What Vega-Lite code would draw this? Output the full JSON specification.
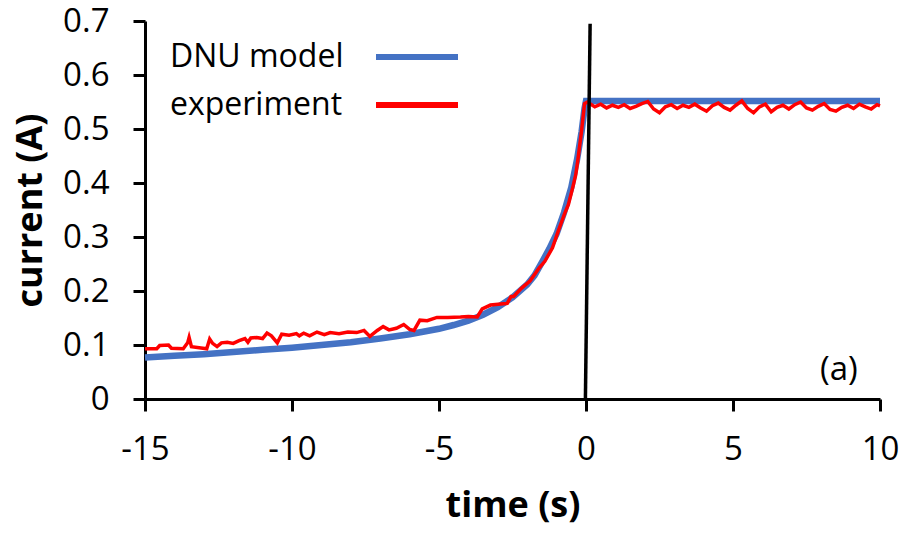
{
  "$schema": "https://vega.github.io/schema/vega-lite/v6.json",
  "width": 735,
  "height": 378,
  "autosize": {"type": "none"},
  "padding": {"left": 145, "top": 21, "right": 25, "bottom": 134},
  "background": "white",
  "datasets": {
    "model": [
      {"t": -15, "c": 0.077}, {"t": -14, "c": 0.080}, {"t": -13, "c": 0.083}, {"t": -12, "c": 0.087},
      {"t": -11, "c": 0.091}, {"t": -10, "c": 0.095}, {"t": -9, "c": 0.100}, {"t": -8, "c": 0.105},
      {"t": -7, "c": 0.112}, {"t": -6, "c": 0.120}, {"t": -5, "c": 0.130}, {"t": -4.5, "c": 0.137},
      {"t": -4, "c": 0.145}, {"t": -3.5, "c": 0.156}, {"t": -3, "c": 0.170}, {"t": -2.5, "c": 0.188},
      {"t": -2, "c": 0.212}, {"t": -1.75, "c": 0.229}, {"t": -1.5, "c": 0.253}, {"t": -1.25, "c": 0.278},
      {"t": -1, "c": 0.306}, {"t": -0.75, "c": 0.345}, {"t": -0.5, "c": 0.392}, {"t": -0.3, "c": 0.445},
      {"t": -0.15, "c": 0.495}, {"t": -0.05, "c": 0.538}, {"t": 0, "c": 0.552}, {"t": 10, "c": 0.552}
    ],
    "exp": [
      {"t": -15, "c": 0.093}, {"t": -14.6, "c": 0.093}, {"t": -14.5, "c": 0.099}, {"t": -14.2, "c": 0.100},
      {"t": -14.1, "c": 0.094}, {"t": -13.7, "c": 0.093}, {"t": -13.55, "c": 0.104}, {"t": -13.5, "c": 0.114},
      {"t": -13.42, "c": 0.097}, {"t": -12.9, "c": 0.093}, {"t": -12.8, "c": 0.111}, {"t": -12.7, "c": 0.103},
      {"t": -12.55, "c": 0.097}, {"t": -12.4, "c": 0.104}, {"t": -12.2, "c": 0.105}, {"t": -12.0, "c": 0.103},
      {"t": -11.8, "c": 0.108}, {"t": -11.6, "c": 0.112}, {"t": -11.5, "c": 0.105}, {"t": -11.4, "c": 0.113},
      {"t": -11.2, "c": 0.114}, {"t": -11.0, "c": 0.112}, {"t": -10.85, "c": 0.122}, {"t": -10.7, "c": 0.117},
      {"t": -10.5, "c": 0.104}, {"t": -10.35, "c": 0.120}, {"t": -10.1, "c": 0.118}, {"t": -9.85, "c": 0.121},
      {"t": -9.75, "c": 0.117}, {"t": -9.6, "c": 0.122}, {"t": -9.4, "c": 0.117}, {"t": -9.15, "c": 0.124},
      {"t": -8.9, "c": 0.119}, {"t": -8.7, "c": 0.123}, {"t": -8.4, "c": 0.121}, {"t": -8.1, "c": 0.124},
      {"t": -7.8, "c": 0.123}, {"t": -7.55, "c": 0.127}, {"t": -7.35, "c": 0.116}, {"t": -7.1, "c": 0.127},
      {"t": -6.9, "c": 0.134}, {"t": -6.7, "c": 0.128}, {"t": -6.45, "c": 0.131}, {"t": -6.2, "c": 0.138},
      {"t": -6.0, "c": 0.129}, {"t": -5.85, "c": 0.127}, {"t": -5.65, "c": 0.146}, {"t": -5.4, "c": 0.145},
      {"t": -5.07, "c": 0.151}, {"t": -4.7, "c": 0.151}, {"t": -4.27, "c": 0.152}, {"t": -4.0, "c": 0.153},
      {"t": -3.7, "c": 0.152}, {"t": -3.53, "c": 0.167}, {"t": -3.25, "c": 0.174}, {"t": -2.9, "c": 0.176},
      {"t": -2.68, "c": 0.177}, {"t": -2.55, "c": 0.190}, {"t": -2.46, "c": 0.190}, {"t": -2.2, "c": 0.205},
      {"t": -1.9, "c": 0.219}, {"t": -1.59, "c": 0.243}, {"t": -1.4, "c": 0.255}, {"t": -1.14, "c": 0.280},
      {"t": -0.95, "c": 0.310}, {"t": -0.73, "c": 0.343}, {"t": -0.6, "c": 0.360}, {"t": -0.45, "c": 0.392},
      {"t": -0.35, "c": 0.415}, {"t": -0.28, "c": 0.441}, {"t": -0.15, "c": 0.497}, {"t": -0.05, "c": 0.547},
      {"t": 0.05, "c": 0.550}, {"t": 0.1, "c": 0.548}, {"t": 0.3, "c": 0.541}, {"t": 0.5, "c": 0.546},
      {"t": 0.7, "c": 0.539}, {"t": 0.9, "c": 0.544}, {"t": 1.1, "c": 0.540}, {"t": 1.3, "c": 0.545},
      {"t": 1.5, "c": 0.538}, {"t": 1.7, "c": 0.542}, {"t": 1.9, "c": 0.547}, {"t": 2.1, "c": 0.551},
      {"t": 2.3, "c": 0.537}, {"t": 2.5, "c": 0.530}, {"t": 2.7, "c": 0.541}, {"t": 2.9, "c": 0.545},
      {"t": 3.1, "c": 0.538}, {"t": 3.3, "c": 0.544}, {"t": 3.5, "c": 0.540}, {"t": 3.7, "c": 0.546},
      {"t": 3.9, "c": 0.539}, {"t": 4.1, "c": 0.533}, {"t": 4.3, "c": 0.543}, {"t": 4.5, "c": 0.548},
      {"t": 4.7, "c": 0.540}, {"t": 4.9, "c": 0.535}, {"t": 5.1, "c": 0.544}, {"t": 5.3, "c": 0.552},
      {"t": 5.5, "c": 0.538}, {"t": 5.7, "c": 0.530}, {"t": 5.9, "c": 0.541}, {"t": 6.1, "c": 0.546},
      {"t": 6.3, "c": 0.532}, {"t": 6.5, "c": 0.540}, {"t": 6.7, "c": 0.544}, {"t": 6.9, "c": 0.537},
      {"t": 7.1, "c": 0.545}, {"t": 7.3, "c": 0.550}, {"t": 7.5, "c": 0.539}, {"t": 7.7, "c": 0.535},
      {"t": 7.9, "c": 0.542}, {"t": 8.1, "c": 0.547}, {"t": 8.3, "c": 0.536}, {"t": 8.5, "c": 0.533},
      {"t": 8.7, "c": 0.540}, {"t": 8.9, "c": 0.544}, {"t": 9.1, "c": 0.538}, {"t": 9.3, "c": 0.546},
      {"t": 9.5, "c": 0.541}, {"t": 9.7, "c": 0.537}, {"t": 9.9, "c": 0.545}, {"t": 10.0, "c": 0.543}
    ],
    "vline": [{"t": -0.02, "c": 0}, {"t": 0.14, "c": 0.695}],
    "note": [{"t": 8.6, "c": 0.053, "label": "(a)"}]
  },
  "encoding": {
    "x": {
      "field": "t", "type": "quantitative",
      "scale": {"domain": [-15, 10], "nice": false, "zero": false},
      "axis": {"title": "time (s)", "values": [-15, -10, -5, 0, 5, 10], "labelExpr": "'' + datum.value", "labelFlush": false, "labelPadding": 22, "titlePadding": 22}
    },
    "y": {
      "field": "c", "type": "quantitative",
      "scale": {"domain": [0, 0.7], "nice": false},
      "axis": {"title": "current (A)", "values": [0, 0.1, 0.2, 0.3, 0.4, 0.5, 0.6, 0.7], "labelExpr": "format(datum.value, '.1~f')", "labelPadding": 24, "titlePadding": 13}
    }
  },
  "layer": [
    {
      "data": {"name": "model"},
      "mark": {"type": "line", "strokeWidth": 6.5},
      "encoding": {"color": {"datum": "DNU model", "type": "nominal",
        "scale": {"domain": ["DNU model", "experiment"], "range": ["#4472C4", "#FF0000"]}}}
    },
    {
      "data": {"name": "exp"},
      "mark": {"type": "line", "strokeWidth": 3.5},
      "encoding": {"color": {"datum": "experiment", "type": "nominal"}}
    },
    {
      "data": {"name": "vline"},
      "mark": {"type": "line", "strokeWidth": 3.5, "color": "black"},
      "encoding": {}
    },
    {
      "data": {"name": "note"},
      "mark": {"type": "text", "font": "Open Sans", "fontSize": 33, "color": "black", "align": "center", "baseline": "middle"},
      "encoding": {"text": {"field": "label"}}
    }
  ],
  "config": {
    "view": {"stroke": null},
    "axis": {
      "domainColor": "black", "domainWidth": 3, "tickColor": "black", "tickWidth": 3, "tickSize": 12,
      "labelFont": "Open Sans", "labelFontSize": 33, "labelColor": "black",
      "titleFont": "Open Sans", "titleFontSize": 36, "titleFontWeight": "bold", "titleColor": "black",
      "grid": false
    },
    "legend": {
      "orient": "none", "legendX": 28, "legendY": 20, "title": null, "padding": 0,
      "labelFont": "Open Sans", "labelFontSize": 32, "labelColor": "black", "labelLimit": 0,
      "symbolType": "M-8.2,0H8.2", "symbolSize": 100, "symbolStrokeWidth": 6,
      "symbolOffset": 228, "labelOffset": -263, "rowPadding": 16
    }
  }
}
